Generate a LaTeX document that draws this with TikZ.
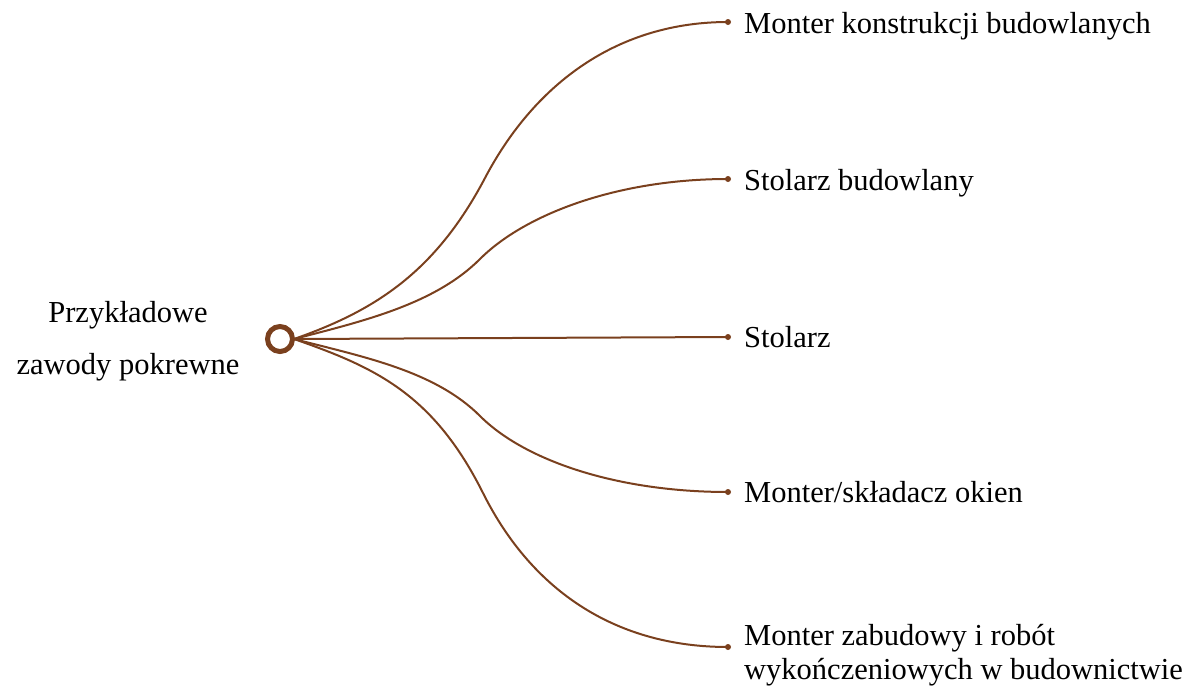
\documentclass[tikz,border=0pt]{standalone}
\usepackage{fontspec}
\setmainfont{Liberation Serif}
\definecolor{brn}{RGB}{122,64,30}
\begin{document}
\begin{tikzpicture}[x=1pt,y=-1pt,
  conn/.style={draw=brn,line width=2pt},
  lbl/.style={anchor=west,inner sep=0pt,font=\fontsize{30.5}{34}\selectfont,align=left},
  endpt/.style={circle,fill=brn,inner sep=0pt,minimum size=6pt}]
\useasboundingbox (0,0) rectangle (1203,686);
\node[circle,draw=brn,line width=5pt,minimum size=25pt,inner sep=0pt] (hub) at (280,339) {};
\node[align=center,inner sep=0pt,font=\fontsize{30.5}{52}\selectfont] (root) at (128,341) {Przykładowe\\zawody pokrewne};
\coordinate (s) at (294,339);
\coordinate (m1) at (485,178);
\coordinate (m2) at (480,259);
\coordinate (m4) at (480,416);
\coordinate (m5) at (483,493);
\node[endpt] (e1) at (728,22) {};
\node[endpt] (e2) at (728,179) {};
\node[endpt] (e3) at (728,337) {};
\node[endpt] (e4) at (728,492) {};
\node[endpt] (e5) at (728,647) {};
\node[lbl] (t1) at (744,26) {Monter konstrukcji budowlanych};
\node[lbl] (t2) at (744,183) {Stolarz budowlany};
\node[lbl] (t3) at (744,337) {Stolarz};
\node[lbl] (t4) at (744,492) {Monter/składacz okien};
\node[lbl] (t5) at (744,655) {Monter zabudowy i robót\\wykończeniowych w budownictwie};
\draw[conn] (s) .. controls +(80,-28) and +(-50,95) .. (m1) .. controls +(50,-95) and +(-110,0) .. (e1.center);
\draw[conn] (s) .. controls +(70,-18) and +(-45,45) .. (m2) .. controls +(45,-45) and +(-110,0) .. (e2.center);
\draw[conn] (s) -- (e3.center);
\draw[conn] (s) .. controls +(70,18) and +(-45,-45) .. (m4) .. controls +(45,45) and +(-110,0) .. (e4.center);
\draw[conn] (s) .. controls +(80,28) and +(-50,-100) .. (m5) .. controls +(50,100) and +(-110,0) .. (e5.center);
\end{tikzpicture}
\end{document}
